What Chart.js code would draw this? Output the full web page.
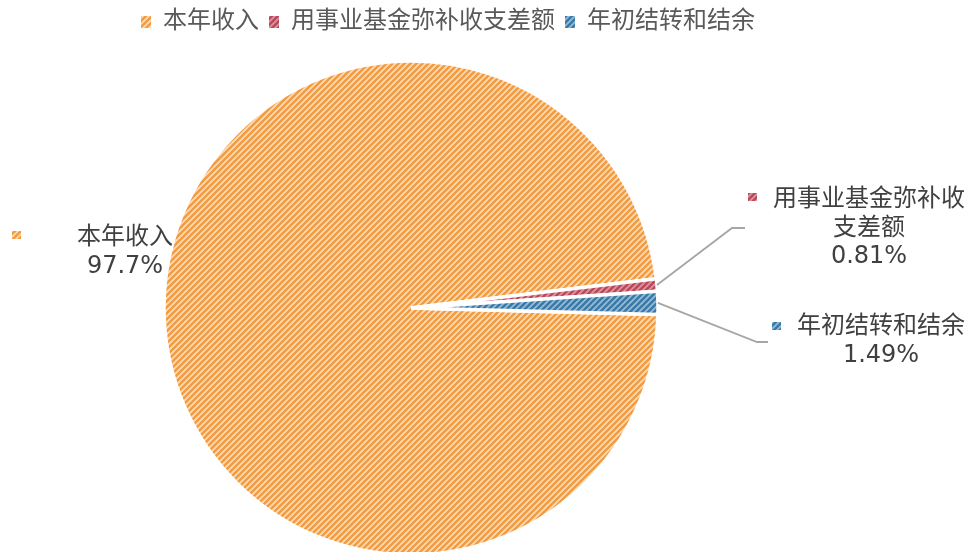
<!DOCTYPE html>
<html><head><meta charset="utf-8">
<script src="https://cdn.jsdelivr.net/npm/chart.js@4"></script>
<style>html,body{margin:0;padding:0;background:#fff;overflow:hidden}#wrap{width:973px;height:552px;overflow:hidden;position:relative}canvas{display:block}</style>
</head><body><div id="wrap"><canvas id="c" width="973" height="600" style="width:973px;height:600px"></canvas></div>
<script>
const categories = ['本年收入', '用事业基金弥补收支差额', '年初结转和结余'];
const percentValues = [97.7, 0.81, 1.49];
const valueLabels = ['97.7%', '0.81%', '1.49%'];
const labelLines = [['本年收入'], ['用事业基金弥补收', '支差额'], ['年初结转和结余']];

const FONT = '"DejaVu Sans", "Noto Sans CJK SC", sans-serif';
const stripeColors = [['#F29B42', '#FCDDBA'], ['#B84A5B', '#DE97A1'], ['#3D79A5', '#94BFDC']];

function makePattern(fg, bg) {
  const s = 6;
  const c = document.createElement('canvas');
  c.width = s; c.height = s;
  const g = c.getContext('2d');
  g.fillStyle = bg; g.fillRect(0, 0, s, s);
  g.strokeStyle = fg; g.lineWidth = 2.6;
  g.beginPath();
  g.moveTo(-1, s + 1); g.lineTo(s + 1, -1);
  g.moveTo(-1, 1); g.lineTo(1, -1);
  g.moveTo(s - 1, s + 1); g.lineTo(s + 1, s - 1);
  g.stroke();
  return g.createPattern(c, 'repeat');
}
const patterns = stripeColors.map(p => makePattern(p[0], p[1]));

// label layout (positions only)
const labelLayout = [
  { cx: 125, y0: 238, key: [12, 231], leader: null },
  { cx: 869, y0: 200, key: [748, 193], leader: [[732, 228], [745, 228]] },
  { cx: 881, y0: 327, key: [772, 322], leader: [[757, 342], [768, 342]] }
];

const labelPlugin = {
  id: 'sliceLabels',
  afterDatasetsDraw(chart) {
    const ctx = chart.ctx;
    const meta = chart.getDatasetMeta(0);
    ctx.save();
    meta.data.forEach((arc, i) => {
      const L = labelLayout[i];
      const p = arc.getProps(['x', 'y', 'startAngle', 'endAngle', 'outerRadius'], true);
      if (L.leader) {
        const mid = (p.startAngle + p.endAngle) / 2;
        ctx.beginPath();
        ctx.moveTo(p.x + Math.cos(mid) * p.outerRadius, p.y + Math.sin(mid) * p.outerRadius);
        L.leader.forEach(pt => ctx.lineTo(pt[0], pt[1]));
        ctx.strokeStyle = '#A6A6A6';
        ctx.lineWidth = 1.8;
        ctx.stroke();
      }
      const lines = labelLines[i].concat([valueLabels[i]]);
      ctx.font = '24px ' + FONT;
      ctx.fillStyle = '#404040';
      ctx.textAlign = 'center';
      ctx.textBaseline = 'middle';
      lines.forEach((t, k) => ctx.fillText(t, L.cx, L.y0 + k * 28.5));
      ctx.fillStyle = patterns[i];
      ctx.fillRect(L.key[0], L.key[1], 9, 8);
    });
    ctx.restore();
  }
};

new Chart(document.getElementById('c'), {
  type: 'pie',
  data: {
    labels: categories,
    datasets: [{
      data: percentValues,
      backgroundColor: patterns,
      borderColor: '#ffffff',
      borderWidth: 3.5,
      clip: false
    }]
  },
  options: {
    responsive: false,
    animation: false,
    devicePixelRatio: 1,
    rotation: 91.5,
    radius: 247,
    layout: { padding: { left: 57, right: 208, top: 0, bottom: 28 } },
    plugins: {
      tooltip: { enabled: false },
      legend: {
        position: 'top',
        align: 'end',
        labels: {
          color: '#595959',
          font: { size: 24, family: FONT },
          boxWidth: 10,
          boxHeight: 12,
          padding: 10,
          generateLabels(chart) {
            return categories.map((c, i) => ({
              text: c, fillStyle: patterns[i], strokeStyle: 'rgba(0,0,0,0)', lineWidth: 0,
              hidden: false, index: i, fontColor: '#595959'
            }));
          }
        }
      }
    }
  },
  plugins: [labelPlugin]
});
</script></body></html>
